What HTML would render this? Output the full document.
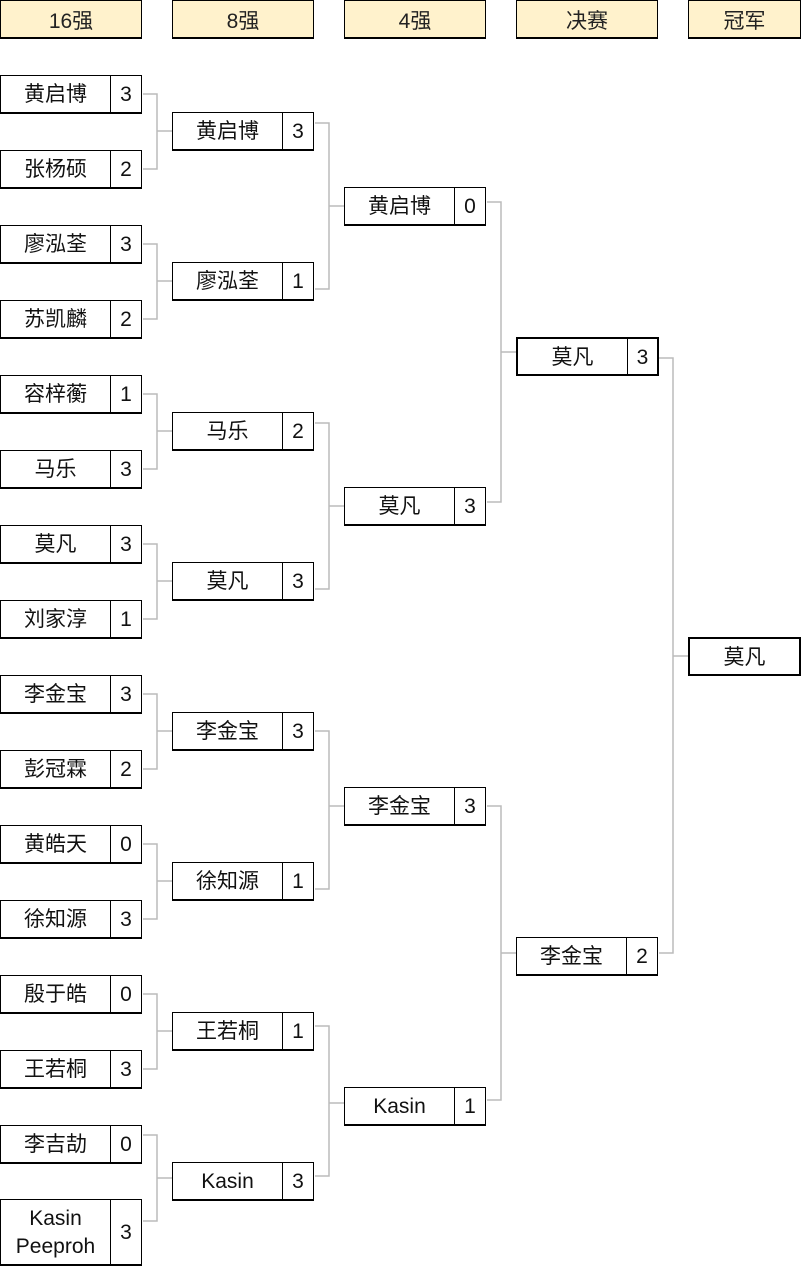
<!DOCTYPE html>
<html><head><meta charset="utf-8"><style>
body{margin:0;width:802px;height:1265px;background:#fff;position:relative;overflow:hidden;font-family:"Liberation Sans","Noto Sans CJK SC",sans-serif;}
.b{position:absolute;width:140px;height:36px;border:1px solid #000;border-bottom:2px solid #000;background:#fff;display:flex;font-size:21px;color:#111;}
.b .n{flex:0 0 110px;display:flex;align-items:center;justify-content:center;border-right:1px solid #000;line-height:28px;text-align:center;padding-top:2px;box-sizing:border-box;}
.b .s{flex:1;display:flex;align-items:center;justify-content:center;padding-top:2px;}
.h{position:absolute;top:0;width:140px;height:36px;border:1px solid #000;border-bottom:2px solid #000;background:#fff2cc;font-size:21px;display:flex;align-items:center;justify-content:center;color:#222;padding-top:1px;box-sizing:content-box;height:35px;}
.t{border:2px solid #000;}
svg{position:absolute;left:0;top:0;}
</style></head><body>
<svg width="802" height="1265"><g fill="none" stroke="#bbb" stroke-width="1.5">
<path d="M143 94H157V169H143M157 131H172"/>
<path d="M143 244H157V319H143M157 281H172"/>
<path d="M143 394H157V469H143M157 431H172"/>
<path d="M143 544H157V619H143M157 581H172"/>
<path d="M143 694H157V769H143M157 731H172"/>
<path d="M143 844H157V919H143M157 881H172"/>
<path d="M143 994H157V1069H143M157 1031H172"/>
<path d="M143 1135H157V1221H143M157 1178H172"/>
<path d="M315 123H329V289H315M329 206H344"/>
<path d="M315 423H329V589H315M329 506H344"/>
<path d="M315 731H329V889H315M329 806H344"/>
<path d="M315 1026H329V1176H315M329 1103H344"/>
<path d="M487 202H501V502H487M501 352H516"/>
<path d="M487 806H501V1100H487M501 953H516"/>
<path d="M659 358H673V953H659M673 656H688"/>
</g></svg>
<div class="h" style="left:0">16强</div>
<div class="h" style="left:172px">8强</div>
<div class="h" style="left:344px">4强</div>
<div class="h" style="left:516px">决赛</div>
<div class="h" style="left:688px;width:111px">冠军</div>

<div class="b" style="left:0;top:75px"><div class="n">黄启博</div><div class="s">3</div></div>
<div class="b" style="left:0;top:150px"><div class="n">张杨硕</div><div class="s">2</div></div>
<div class="b" style="left:0;top:225px"><div class="n">廖泓荃</div><div class="s">3</div></div>
<div class="b" style="left:0;top:300px"><div class="n">苏凯麟</div><div class="s">2</div></div>
<div class="b" style="left:0;top:375px"><div class="n">容梓蘅</div><div class="s">1</div></div>
<div class="b" style="left:0;top:450px"><div class="n">马乐</div><div class="s">3</div></div>
<div class="b" style="left:0;top:525px"><div class="n">莫凡</div><div class="s">3</div></div>
<div class="b" style="left:0;top:600px"><div class="n">刘家淳</div><div class="s">1</div></div>
<div class="b" style="left:0;top:675px"><div class="n">李金宝</div><div class="s">3</div></div>
<div class="b" style="left:0;top:750px"><div class="n">彭冠霖</div><div class="s">2</div></div>
<div class="b" style="left:0;top:825px"><div class="n">黄皓天</div><div class="s">0</div></div>
<div class="b" style="left:0;top:900px"><div class="n">徐知源</div><div class="s">3</div></div>
<div class="b" style="left:0;top:975px"><div class="n">殷于皓</div><div class="s">0</div></div>
<div class="b" style="left:0;top:1050px"><div class="n">王若桐</div><div class="s">3</div></div>
<div class="b" style="left:0;top:1125px"><div class="n">李吉劼</div><div class="s">0</div></div>
<div class="b" style="left:0;top:1199px;height:64px"><div class="n">Kasin<br>Peeproh</div><div class="s">3</div></div>

<div class="b" style="left:172px;top:112px"><div class="n">黄启博</div><div class="s">3</div></div>
<div class="b" style="left:172px;top:262px"><div class="n">廖泓荃</div><div class="s">1</div></div>
<div class="b" style="left:172px;top:412px"><div class="n">马乐</div><div class="s">2</div></div>
<div class="b" style="left:172px;top:562px"><div class="n">莫凡</div><div class="s">3</div></div>
<div class="b" style="left:172px;top:712px"><div class="n">李金宝</div><div class="s">3</div></div>
<div class="b" style="left:172px;top:862px"><div class="n">徐知源</div><div class="s">1</div></div>
<div class="b" style="left:172px;top:1012px"><div class="n">王若桐</div><div class="s">1</div></div>
<div class="b" style="left:172px;top:1162px"><div class="n">Kasin</div><div class="s">3</div></div>

<div class="b" style="left:344px;top:187px"><div class="n">黄启博</div><div class="s">0</div></div>
<div class="b" style="left:344px;top:487px"><div class="n">莫凡</div><div class="s">3</div></div>
<div class="b" style="left:344px;top:787px"><div class="n">李金宝</div><div class="s">3</div></div>
<div class="b" style="left:344px;top:1087px"><div class="n">Kasin</div><div class="s">1</div></div>

<div class="b t" style="left:516px;top:337px;width:139px;height:35px"><div class="n">莫凡</div><div class="s">3</div></div>
<div class="b" style="left:516px;top:937px"><div class="n">李金宝</div><div class="s">2</div></div>

<div class="b t" style="left:688px;top:637px;width:109px;height:35px"><div class="n" style="border-right:none;flex:1">莫凡</div></div>
</body></html>
